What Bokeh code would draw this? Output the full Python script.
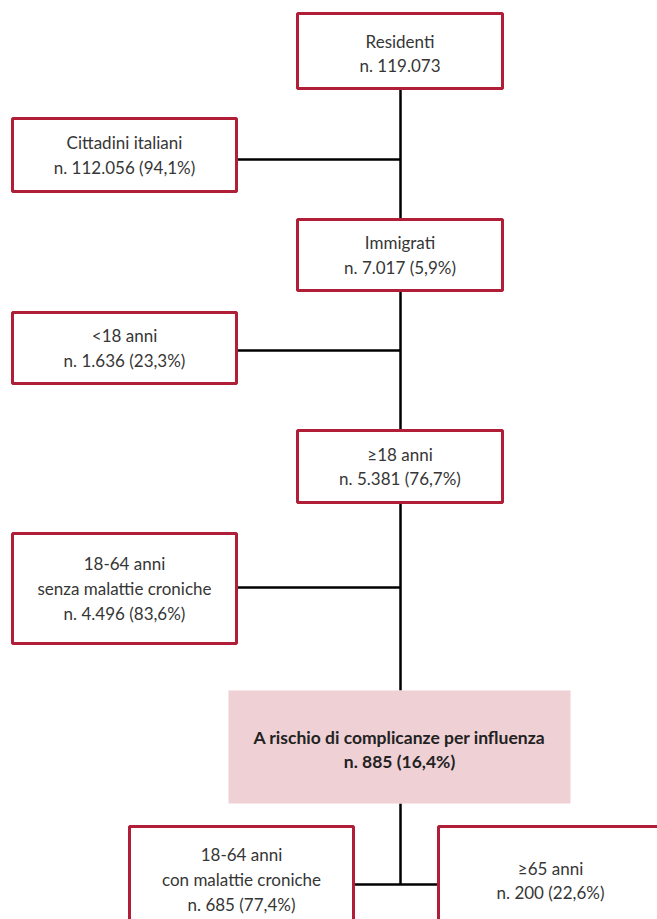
from bokeh.plotting import figure
from bokeh.models import Range1d, ColumnDataSource
from bokeh.core.properties import value
from bokeh.embed import file_html
from bokeh.resources import INLINE

# ---- data ----
node_labels = ["Residenti", "Cittadini italiani", "Immigrati", "<18 anni", "≥18 anni",
               "18-64 anni\nsenza malattie croniche",
               "A rischio di complicanze per influenza",
               "18-64 anni\ncon malattie croniche", "≥65 anni"]
node_counts = ["119.073", "112.056", "7.017", "1.636", "5.381", "4.496", "885", "685", "200"]
node_pcts = ["", "94,1%", "5,9%", "23,3%", "76,7%", "83,6%", "16,4%", "77,4%", "22,6%"]

# ---- layout (page pixel coordinates) ----
box_left = [297, 12, 297, 12, 297, 12, 228, 129, 438]
box_right = [502, 236, 502, 236, 502, 236, 570, 353, 662]
box_top = [13, 118, 219, 312, 430, 533, 690, 826, 826]
box_bottom = [88, 191, 290, 383, 502, 643, 803, 934, 934]
highlight = 6

FONT = "Lato"
RED = "#B01E38"
PINK = "#EFD0D5"
TXT = "#363636"

texts = []
for lab, c, pc in zip(node_labels, node_counts, node_pcts):
    t = lab + "\nn. " + c + ((" (" + pc + ")") if pc else "")
    texts.append(t)

W, H = 657, 919
p = figure(width=W, height=H, x_range=Range1d(0, W), y_range=Range1d(H, 0),
           output_backend="svg", toolbar_location=None, min_border=0)
p.axis.visible = False
p.grid.visible = False
p.outline_line_color = None
p.background_fill_color = "white"

# connectors
cx = 400
xs = [[cx, cx], [236, cx], [236, cx], [236, cx], [cx, cx], [353, 438]]
ys = [[88, 690], [159, 159], [350, 350], [587, 587], [803, 884], [884, 884]]
p.multi_line(xs=xs, ys=ys, line_color="black", line_width=2.5)

idx = [i for i in range(len(node_labels)) if i != highlight]
box_src = ColumnDataSource(dict(
    left=[box_left[i] for i in idx], right=[box_right[i] for i in idx],
    top=[box_top[i] for i in idx], bottom=[box_bottom[i] for i in idx]))
p.quad(left="left", right="right", top="top", bottom="bottom", source=box_src,
       fill_color="white", line_color=RED, line_width=3)
p.quad(left=[box_left[highlight]], right=[box_right[highlight]],
       top=[box_top[highlight]], bottom=[box_bottom[highlight]],
       fill_color=PINK, line_color=None)

tx = [(box_left[i] + box_right[i]) / 2 for i in range(len(texts))]
ty = [(box_top[i] + box_bottom[i]) / 2 for i in range(len(texts))]
ty[0] = 53
ty[7] = 879
ty[8] = 880
ty[6] = 749
normal = [i for i in range(len(texts)) if i != highlight]
p.text(x=[tx[i] for i in normal], y=[ty[i] for i in normal], text=[texts[i] for i in normal],
       text_font=value(FONT), text_font_size="17px", text_color=TXT,
       text_align="center", text_baseline="middle", text_line_height=1.17)
p.text(x=[tx[highlight]], y=[ty[highlight]], text=[texts[highlight]],
       text_font=value(FONT), text_font_size="17.5px", text_font_style="bold", text_color="#222222",
       text_align="center", text_baseline="middle", text_line_height=1.1)

open("out.html", "w").write(file_html(p, INLINE))
